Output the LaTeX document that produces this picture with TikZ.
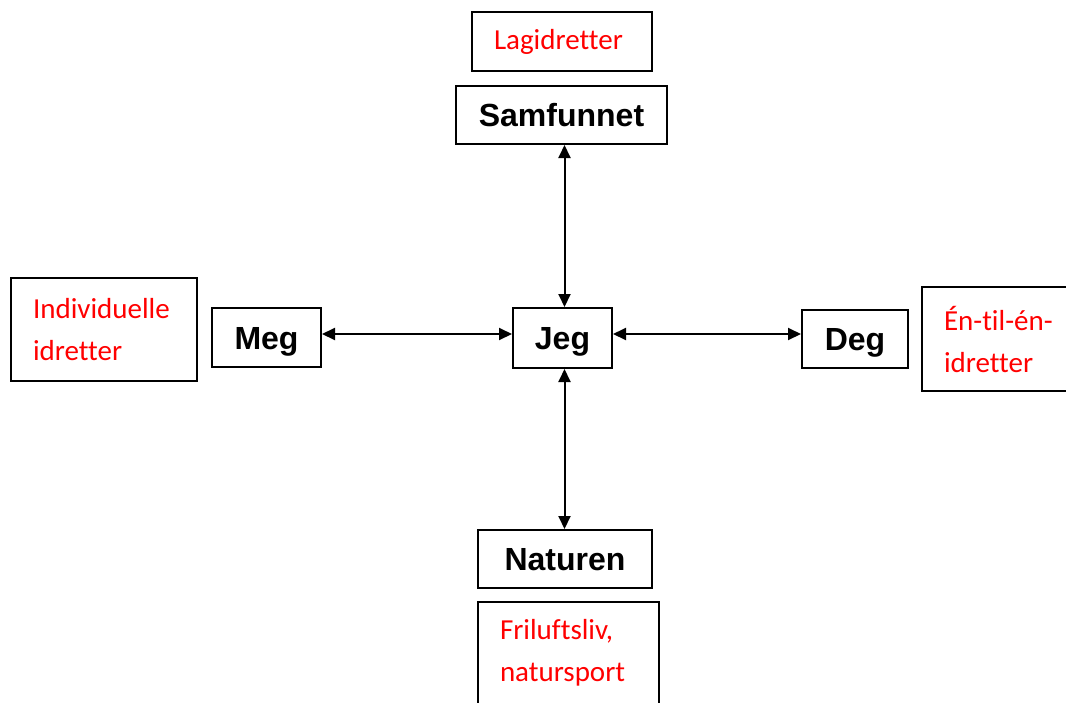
\documentclass[tikz,border=0pt]{standalone}
\usepackage{fontspec}
\setmainfont{Liberation Sans}
\newfontfamily\calibri[Ligatures=NoCommon]{Carlito}
\usetikzlibrary{arrows.meta, positioning}
\tikzset{
    hovedboks/.style={draw, rectangle, line width=1pt, inner sep=0pt, text height=11.5pt, text depth=0pt, align=center, font=\fontsize{16}{19}\selectfont\bfseries},
    idrettboks/.style={draw, rectangle, line width=1pt, inner xsep=11pt, inner ysep=0pt, align=left, text=red, font=\calibri\fontsize{14.5}{21}\selectfont},
    pil/.style={<->, >={Triangle[length=6.5pt,width=6pt]}, line width=1pt}
}

\begin{document}
\begin{tikzpicture}[x=0.5pt, y=-0.5pt]

        \useasboundingbox (0,0) rectangle (1066,702);
        \clip (0,0) rectangle (1066,702);

        % -----------------------------------------------------------------
        % HOVEDBOKSER
        % -----------------------------------------------------------------
        \node[hovedboks, minimum width=49.5pt, minimum height=30pt] (jeg) at (562.5,338) {Jeg};
        \node[hovedboks, minimum width=105.5pt, minimum height=29pt] (samfunnet) at (561.5,115) {Samfunnet};
        \node[hovedboks, minimum width=54.5pt, minimum height=29.5pt] (meg) at (266.5,337.5) {Meg};
        \node[hovedboks, minimum width=53pt, minimum height=29pt] (deg) at (855,339) {Deg};
        \node[hovedboks, minimum width=87pt, minimum height=29pt] (naturen) at (565,559) {Naturen};

        % -----------------------------------------------------------------
        % IDRETTER
        % -----------------------------------------------------------------
        \node[idrettboks, text width=68pt, minimum height=29.5pt, text height=10pt, text depth=2pt] (lagidretter) at (562,41.5) {Lagidretter};
        \node[idrettboks, text width=71pt, minimum height=51.5pt] (individuelle) at (104,329.5) {Individuelle\\idretter};
        \node[idrettboks, text width=60pt, minimum height=52pt] (entilen) at (1004,339) {Én-til-én-\\idretter};
        \node[idrettboks, text width=68.5pt, minimum height=51pt] (friluftsliv) at (568.5,653) {Friluftsliv,\\natursport};

        % -----------------------------------------------------------------
        % PILER
        % -----------------------------------------------------------------
        \draw[pil] ([xshift=1pt]jeg.north) -- ([xshift=1pt]jeg.north |- samfunnet.south);
        \draw[pil] ([xshift=1pt]jeg.south) -- ([xshift=1pt]jeg.south |- naturen.north);
        \draw[pil] ([yshift=2pt]jeg.west) -- ([yshift=2pt]jeg.west -| meg.east);
        \draw[pil] ([yshift=2pt]jeg.east) -- ([yshift=2pt]jeg.east -| deg.west);

\end{tikzpicture}
\end{document}
